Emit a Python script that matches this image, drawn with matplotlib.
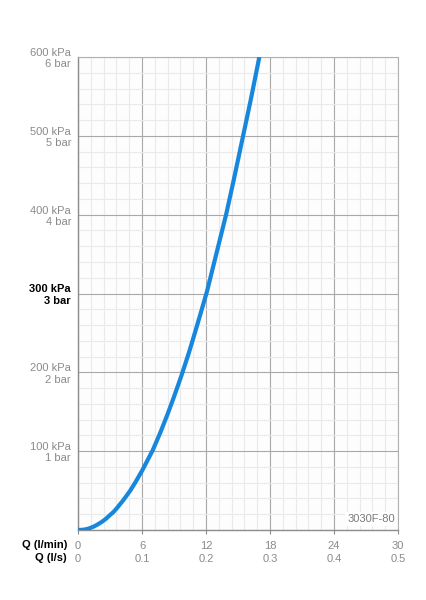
import matplotlib
matplotlib.use("Agg")
import matplotlib.pyplot as plt
from matplotlib.ticker import MultipleLocator

plt.rcParams['font.family'] = ['Liberation Sans', 'DejaVu Sans']

# flow (l/min) vs pressure loss (kPa)
flow_lpm = [0, 0.4, 0.7, 1.0, 1.5, 1.8, 2.2, 2.6, 3.0, 3.3, 3.6, 4.2, 4.9, 5.4,
            6.0, 6.5, 7.0, 7.7, 8.4, 9.0, 9.7, 10.4, 11.0, 11.5, 12.1, 13.0,
            13.9, 14.6, 15.4, 16.2, 17.0]
pressure_kpa = [0, 0.2, 0.8, 1.8, 4.5, 6.7, 10, 14, 19, 22.5, 27, 37, 50, 61,
                75, 88, 101, 123, 147, 169, 196, 225, 252, 275, 303, 352,
                401, 444, 495, 546, 600]

x_ticks = [0, 6, 12, 18, 24, 30]
x_lps = ["0", "0.1", "0.2", "0.3", "0.4", "0.5"]
y_ticks = [100, 200, 300, 400, 500, 600]
y_labels = ["100 kPa\n1 bar", "200 kPa\n2 bar", "300 kPa\n3 bar",
            "400 kPa\n4 bar", "500 kPa\n5 bar", "600 kPa\n6 bar"]
model = "3030F-80"

grey = "#8a8a8a"

fig = plt.figure(figsize=(4.27, 6.0), dpi=100)
ax = fig.add_axes([78 / 427, 70 / 600, 320 / 427, 473 / 600])
ax.set_facecolor("#fdfdfd")

ax.set_xlim(0, 30)
ax.set_ylim(0, 600)
ax.xaxis.set_minor_locator(MultipleLocator(1.2))
ax.yaxis.set_minor_locator(MultipleLocator(20))
ax.grid(which="minor", color="#eaeaea", linewidth=0.8)
ax.grid(which="major", color="#a8a8a8", linewidth=0.8)
ax.set_axisbelow(True)

for side in ["top", "right"]:
    ax.spines[side].set_color("#b0b0b0")
    ax.spines[side].set_linewidth(0.8)
for side in ["left", "bottom"]:
    ax.spines[side].set_color("#8c8c8c")
    ax.spines[side].set_linewidth(1.0)

ax.plot(flow_lpm, pressure_kpa, color="#1787dd", linewidth=3.0,
        solid_capstyle="butt", solid_joinstyle="round", zorder=3)

# x ticks: two rows (l/min over l/s)
ax.set_xticks(x_ticks)
ax.set_xticklabels([f"{q}\n{s}" for q, s in zip(x_ticks, x_lps)],
                   color=grey, fontsize=8, linespacing=1.3)
ax.tick_params(axis="x", which="major", length=3, color="#8c8c8c", pad=5)
ax.tick_params(which="minor", length=0)

ax.set_yticks(y_ticks)
ax.set_yticklabels(y_labels, color=grey, fontsize=8, linespacing=1.15,
                   multialignment="right")
ax.tick_params(axis="y", which="major", length=0, pad=5)
for lab in ax.get_yticklabels():
    if lab.get_text().startswith("300"):
        lab.set_color("black")
        lab.set_fontweight("bold")

fig.text(67 / 427, 1 - 545 / 600, "Q (l/min)", ha="right", va="center",
         fontsize=8, fontweight="bold", color="black")
fig.text(67 / 427, 1 - 558 / 600, "Q (l/s)", ha="right", va="center",
         fontsize=8, fontweight="bold", color="black")

ax.text(29.7, 8, model, ha="right", va="bottom", fontsize=8, color="#7a7a7a",
        bbox=dict(facecolor="white", edgecolor="none", pad=1.5), zorder=4)

fig.savefig("out.png", dpi=100, facecolor="white")
